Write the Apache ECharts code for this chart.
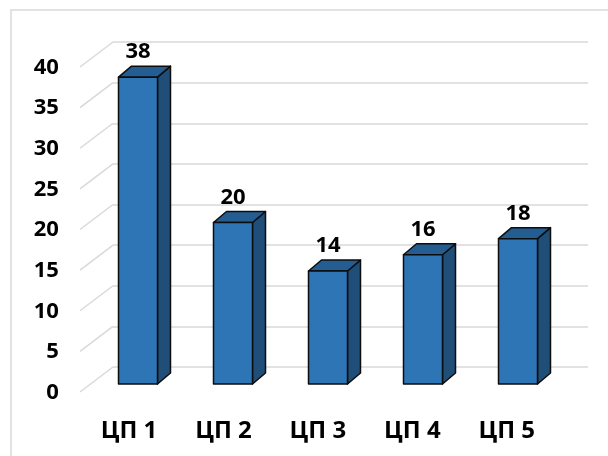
<!DOCTYPE html>
<html>
<head>
<meta charset="utf-8">
<script src="https://cdn.jsdelivr.net/npm/echarts@6/dist/echarts.min.js"></script>
<style>
  html, body { margin: 0; padding: 0; background: #fff; }
  #chart { width: 608px; height: 456px; }
</style>
</head>
<body>
<div id="chart"></div>
<script>
// Categories and values
const categories = ['ЦП 1', 'ЦП 2', 'ЦП 3', 'ЦП 4', 'ЦП 5'];
const values = [38, 20, 14, 16, 18];
const yTicks = [0, 5, 10, 15, 20, 25, 30, 35, 40];

const FONT = '"Open Sans", "DejaVu Sans", sans-serif';
const GRID_COLOR = '#d9d9d9';
const FRONT = '#2e75b6';
const SIDE = '#1f4e79';
const TOP = '#245d92';
const EDGE = '#0d0d0d';

// depth of each box and of the floor/wall
const BOX_DX = 13, BOX_DY = -11, BOX_HALF = 19.5;
const WALL_DX = -33, WALL_DY = 25;

const chart = echarts.init(document.getElementById('chart'));

chart.setOption({
  animation: false,
  backgroundColor: '#fff',
  graphic: [{
    type: 'rect',
    shape: { x: 11, y: 10, width: 640, height: 480 },
    style: { fill: 'none', stroke: GRID_COLOR, lineWidth: 1.5 },
    silent: true
  }],
  grid: [
    // back wall
    { left: 113, right: 20, top: 42, bottom: 89 },
    // boxes
    { left: 90.5, right: 42.5, top: 61, bottom: 72 },
    // front plane (axis labels)
    { left: 81.8, right: 54, top: 67.5, bottom: 63.5 }
  ],
  xAxis: [
    { gridIndex: 0, type: 'value', min: 0, max: 1, show: false },
    { gridIndex: 1, type: 'category', data: categories, show: false },
    {
      gridIndex: 2, type: 'category', data: categories,
      axisLine: { show: false }, axisTick: { show: false },
      axisLabel: { margin: 27, fontFamily: FONT, fontWeight: 'bold', fontSize: 24, color: '#000' }
    }
  ],
  yAxis: [
    {
      gridIndex: 0, type: 'value', min: 0, max: 40, interval: 5,
      axisLine: { show: false }, axisTick: { show: false }, axisLabel: { show: false },
      splitLine: { lineStyle: { color: GRID_COLOR, width: 1.5 } }
    },
    { gridIndex: 1, type: 'value', min: 0, max: 40, interval: 5, show: false },
    {
      gridIndex: 2, type: 'value', min: 0, max: 40, interval: 5,
      axisLine: { show: false }, axisTick: { show: false }, splitLine: { show: false },
      axisLabel: { margin: 23, fontFamily: FONT, fontWeight: 'bold', fontSize: 22, color: '#000' }
    }
  ],
  series: [
    {
      // floor-to-wall diagonals for every gridline
      type: 'custom',
      xAxisIndex: 0, yAxisIndex: 0,
      silent: true,
      data: yTicks.map(v => [0, v]),
      renderItem: function (params, api) {
        const p = api.coord([0, api.value(1)]);
        return {
          type: 'line',
          shape: { x1: p[0] + WALL_DX, y1: p[1] + WALL_DY, x2: p[0], y2: p[1] },
          style: { stroke: GRID_COLOR, lineWidth: 1.5 }
        };
      }
    },
    {
      // 3D boxes
      type: 'custom',
      xAxisIndex: 1, yAxisIndex: 1,
      data: values.map((v, i) => [i, v]),
      renderItem: function (params, api) {
        const i = api.value(0), v = api.value(1);
        const b = api.coord([i, 0]);
        const t = api.coord([i, v]);
        const x0 = b[0] - BOX_HALF, x1 = b[0] + BOX_HALF;
        const yb = b[1], yt = t[1];
        const edge = { stroke: EDGE, lineWidth: 1.5, lineJoin: 'round' };
        return {
          type: 'group',
          children: [
            {
              type: 'polygon',
              shape: { points: [[x1, yt], [x1 + BOX_DX, yt + BOX_DY], [x1 + BOX_DX, yb + BOX_DY], [x1, yb]] },
              style: Object.assign({ fill: SIDE }, edge)
            },
            {
              type: 'polygon',
              shape: { points: [[x0, yt], [x0 + BOX_DX, yt + BOX_DY], [x1 + BOX_DX, yt + BOX_DY], [x1, yt]] },
              style: Object.assign({ fill: TOP }, edge)
            },
            {
              type: 'rect',
              shape: { x: x0, y: yt, width: x1 - x0, height: yb - yt },
              style: Object.assign({ fill: FRONT }, edge)
            },
            {
              type: 'text',
              x: b[0], y: yt - 25,
              style: {
                text: String(v), fontFamily: FONT, fontWeight: 'bold', fontSize: 22,
                fill: '#000', align: 'center', verticalAlign: 'middle'
              }
            }
          ]
        };
      }
    }
  ]
});
</script>
</body>
</html>
